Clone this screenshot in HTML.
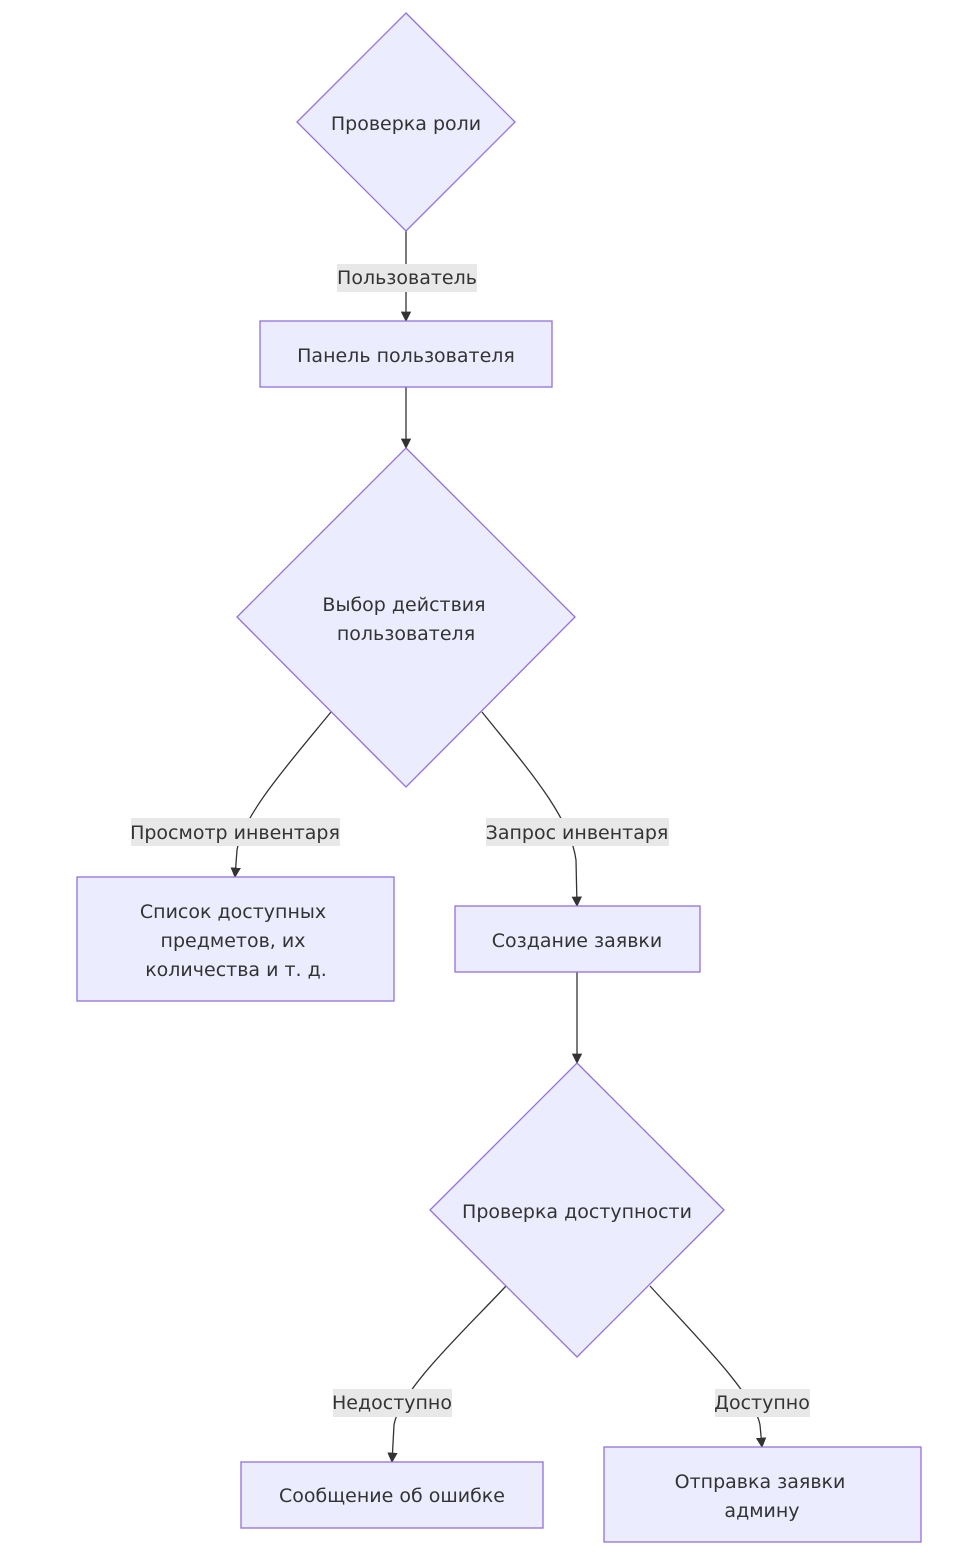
<!DOCTYPE html>
<html><head><meta charset="utf-8"><style>
html,body{margin:0;padding:0;background:#fff;}
svg{display:block;}
text{font-family:"DejaVu Sans","Liberation Sans",sans-serif;font-size:19px;fill:#333;text-anchor:middle;dominant-baseline:central;}
.n{fill:#ECECFF;stroke:#9370DB;stroke-width:1.3;}
.e{fill:none;stroke:#333;stroke-width:1.3;}
.lb{fill:#e8e8e8;}
</style></head><body>
<svg width="954" height="1554" viewBox="0 0 954 1554" xmlns="http://www.w3.org/2000/svg">
<defs><marker id="a" viewBox="0 0 10 10" refX="9" refY="5" markerWidth="8" markerHeight="8" orient="auto"><path d="M0,0L10,5L0,10z" fill="#333"/></marker></defs>
<g transform="translate(0,1)">
<path class="e" d="M406,230 L406,320" marker-end="url(#a)"/>
<path class="e" d="M406,386 L406,447" marker-end="url(#a)"/>
<path class="e" d="M331,711 C290,761 243,814 237,849 L235,876" marker-end="url(#a)"/>
<path class="e" d="M482,711 C522,761 570,814 576,859 L577,905" marker-end="url(#a)"/>
<path class="e" d="M577,971 L577,1062" marker-end="url(#a)"/>
<path class="e" d="M506,1285 C465,1329 400,1389 394,1424 L392,1461" marker-end="url(#a)"/>
<path class="e" d="M650,1285 C690,1329 755,1394 760,1424 L762,1446" marker-end="url(#a)"/>
<polygon class="n" points="406,12 515,121 406,230 297,121"/>
<text x="406" y="123">Проверка роли</text>
<rect class="n" x="260" y="320" width="292" height="66"/>
<text x="406" y="355">Панель пользователя</text>
<polygon class="n" points="406,447 575,616 406,786 237,616"/>
<text x="404" y="604">Выбор действия</text>
<text x="406" y="633">пользователя</text>
<rect class="n" x="77" y="876" width="317" height="124"/>
<text x="233" y="911">Список доступных</text>
<text x="233" y="940">предметов, их</text>
<text x="236" y="969">количества и т. д.</text>
<rect class="n" x="455" y="905" width="245" height="66"/>
<text x="577" y="940">Создание заявки</text>
<polygon class="n" points="577,1062 724,1209 577,1356 430,1209"/>
<text x="577" y="1211">Проверка доступности</text>
<rect class="n" x="241" y="1461" width="302" height="66"/>
<text x="392" y="1495">Сообщение об ошибке</text>
<rect class="n" x="604" y="1446" width="317" height="95"/>
<text x="760" y="1481">Отправка заявки</text>
<text x="762" y="1510">админу</text>
<rect class="lb" x="337" y="263" width="140" height="28"/>
<text x="407" y="277">Пользователь</text>
<rect class="lb" x="131" y="817" width="209" height="28"/>
<text x="235" y="832">Просмотр инвентаря</text>
<rect class="lb" x="486" y="817" width="183" height="28"/>
<text x="577" y="832">Запрос инвентаря</text>
<rect class="lb" x="333" y="1388" width="119" height="28"/>
<text x="392" y="1402">Недоступно</text>
<rect class="lb" x="715" y="1388" width="95" height="28"/>
<text x="762" y="1402">Доступно</text>
</g>
</svg>
</body></html>
